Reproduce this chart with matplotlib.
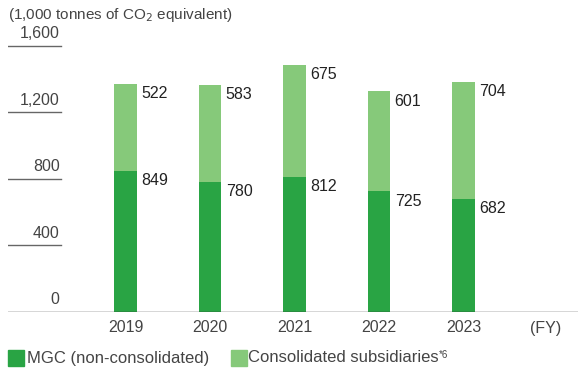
import matplotlib.pyplot as plt

plt.rcParams['font.family'] = ['Liberation Sans', 'DejaVu Sans']

years = ['2019', '2020', '2021', '2022', '2023']
mgc = [849, 780, 812, 725, 682]
subsidiaries = [522, 583, 675, 601, 704]
yticks = [0, 400, 800, 1200, 1600]

dark = '#29a444'
light = '#86c97a'
grey = '#444444'

fig = plt.figure(figsize=(5.78, 3.69), dpi=100)
# axes spans x 8..578 px, y baseline at 312 px up to top of figure
ax = fig.add_axes([8 / 578, (369 - 312) / 369, 570 / 578, 312 / 369])
ax.set_xlim((8 - 125.5) / 84.5, (578 - 125.5) / 84.5)
ax.set_ylim(0, 312 / 0.1663)
ax.axis('off')

x = list(range(len(years)))
w = 0.272
ax.bar(x, mgc, width=w, color=dark)
ax.bar(x, subsidiaries, width=w, bottom=mgc, color=light)

for i in x:
    ax.annotate(f'{mgc[i]}', (i + w / 2, mgc[i]), xytext=(3, -1.5),
                textcoords='offset points', ha='left', va='top',
                fontsize=11.5, color='#222222')
    ax.annotate(f'{subsidiaries[i]}', (i + w / 2, mgc[i] + subsidiaries[i]),
                xytext=(3, -1.5), textcoords='offset points', ha='left', va='top',
                fontsize=11.5, color='#222222')
    ax.text(i, -16 / 0.1663, years[i], ha='center', va='center',
            fontsize=11.5, color=grey)
ax.text(4.97, -16 / 0.1663, '(FY)', ha='center', va='center',
        fontsize=11.5, color=grey)

# y "ticks": short lines under each label, full baseline for 0
x0 = ax.get_xlim()[0]
x1 = (61 - 125.5) / 84.5
for v in yticks:
    if v == 0:
        ax.axhline(0, color='#333333', lw=1)
    else:
        ax.plot([x0, x1], [v, v], color='#666666', lw=1)
    ax.annotate(f'{v:,}', (x1, v), xytext=(-1, 3.5), textcoords='offset points',
                ha='right', va='bottom', fontsize=11.5, color=grey)

fig.text(8 / 578, 1 - 15 / 369, '(1,000 tonnes of CO$_2$ equivalent)',
         ha='left', va='center', fontsize=11, color=grey)

# legend
fig.patches.append(plt.Rectangle((8 / 578, 1 - 366 / 369), 16 / 578, 16 / 369,
                                 transform=fig.transFigure, color=dark))
fig.text(27 / 578, 1 - 358 / 369, 'MGC (non-consolidated)', ha='left',
         va='center', fontsize=12, color=grey)
fig.patches.append(plt.Rectangle((231 / 578, 1 - 366 / 369), 16 / 578, 16 / 369,
                                 transform=fig.transFigure, color=light))
t = fig.text(248 / 578, 1 - 358 / 369, 'Consolidated subsidiaries', ha='left',
             va='center', fontsize=12, color=grey)
# footnote mark right after the legend text
ax.annotate('*6', xy=(1, 1), xycoords=t, xytext=(0.5, 0),
            textcoords='offset points', ha='left', va='top',
            fontsize=7, color=grey, annotation_clip=False)

fig.savefig('out.png', dpi=100)
